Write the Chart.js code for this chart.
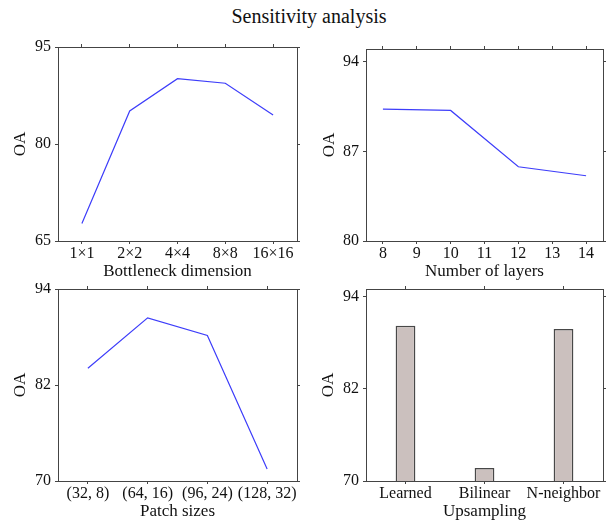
<!DOCTYPE html>
<html>
<head>
<meta charset="utf-8">
<script src="https://cdn.jsdelivr.net/npm/chart.js@4.4.1/dist/chart.umd.min.js"></script>
<style>
  html, body { margin: 0; padding: 0; background: #fff; }
  body { width: 613px; height: 523px; position: relative; overflow: hidden; }
  #title { position: absolute; left: 0; width: 618px; top: 5px; line-height: 20px; text-align: center;
           font: 20px 'Liberation Serif', 'Times New Roman', serif; color: #111; }
  canvas { position: absolute; }
</style>
</head>
<body>
<div id="title">Sensitivity analysis</div>
<canvas id="c1" width="305" height="248" style="left:0;top:35px"></canvas>
<canvas id="c2" width="308" height="248" style="left:305px;top:35px"></canvas>
<canvas id="c3" width="305" height="240" style="left:0;top:283px"></canvas>
<canvas id="c4" width="308" height="240" style="left:305px;top:283px"></canvas>
<script>
// values
const bottleneckDims = ['1×1', '2×2', '4×4', '8×8', '16×16'];
const oaBottleneck = [67.7, 85.1, 90.1, 89.4, 84.5];
const bottleneckTicks = [65, 80, 95];

const layerCounts = [8, 10, 12, 14];
const oaLayers = [90.3, 90.2, 85.8, 85.1];
const layerTicks = [8, 9, 10, 11, 12, 13, 14];
const layersOaTicks = [80, 87, 94];

const patchSizes = ['(32, 8)', '(64, 16)', '(96, 24)', '(128, 32)'];
const oaPatch = [84.1, 90.4, 88.2, 71.5];
const patchOaTicks = [70, 82, 94];

const upsampling = ['Learned', 'Bilinear', 'N-neighbor'];
const oaUpsampling = [90.2, 71.7, 89.8];
const upsamplingOaTicks = [70, 82, 94];

const FRAME = '#444';
const LINE = '#3d3dfa';

Chart.defaults.font.family = "'Liberation Serif', 'Times New Roman', serif";
Chart.defaults.color = '#111';

const axisBase = () => ({
    grid: { display: true, drawOnChartArea: false, drawTicks: true, tickLength: 3, color: FRAME, offset: false },
    border: { display: true, color: FRAME, width: 1 }
});
const useTicks = vals => s => { s.ticks = vals.map(v => ({ value: v })); };
// pin the axis box size and drop the label overflow padding so the plot frames land where they should
const fix = (prop, v) => s => {
    s[prop] = v;
    s.paddingTop = s.paddingBottom = s.paddingLeft = s.paddingRight = 0;
};

function makePanel(id, p) {
    const xCommon = p.xType === 'linear'
        ? { type: 'linear', min: p.xMin, max: p.xMax, afterBuildTicks: useTicks(p.xTicks) }
        : { type: 'category', offset: true };
    const yCommon = { type: 'linear', min: p.yMin, max: p.yMax, afterBuildTicks: useTicks(p.yTicks) };

    return new Chart(document.getElementById(id), {
        type: p.type,
        data: { labels: p.labels, datasets: p.datasets },
        options: {
            responsive: false,
            animation: false,
            layout: { padding: 0 },
            plugins: { legend: { display: false }, tooltip: { enabled: false } },
            scales: {
                x: {
                    ...axisBase(), ...xCommon, position: 'bottom',
                    afterFit: fix('height', p.box.bottom),
                    ticks: { padding: 2, maxRotation: 0, autoSkip: false, font: { size: 16, lineHeight: 1 } },
                    title: { display: true, text: p.xTitle, font: { size: 17, lineHeight: 1 }, padding: { top: 0, bottom: 3 } }
                },
                x2: {
                    ...axisBase(), ...xCommon, position: 'top',
                    afterFit: fix('height', p.box.top),
                    ticks: { display: false }
                },
                y: {
                    ...axisBase(), ...yCommon, position: 'left',
                    afterFit: fix('width', p.box.left),
                    ticks: { padding: 4, font: { size: 16 } },
                    title: { display: true, text: 'OA', font: { size: 17, lineHeight: 1 }, padding: { top: p.oaPad, bottom: 0 } }
                },
                y2: {
                    ...axisBase(), ...yCommon, position: 'right',
                    afterFit: fix('width', p.box.right),
                    ticks: { display: false }
                }
            }
        }
    });
}

const lineSet = data => ({ data, borderColor: LINE, borderWidth: 1.2, pointRadius: 0, tension: 0, fill: false });

makePanel('c1', {
    type: 'line', labels: bottleneckDims, datasets: [lineSet(oaBottleneck)],
    yMin: 65, yMax: 95, yTicks: bottleneckTicks, xTitle: 'Bottleneck dimension',
    box: { left: 58, right: 8, top: 12, bottom: 42 }, oaPad: 12.5
});

makePanel('c2', {
    type: 'line', xType: 'linear', xMin: 7.5, xMax: 14.5, xTicks: layerTicks,
    datasets: [lineSet(layerCounts.map((n, i) => ({ x: n, y: oaLayers[i] })))],
    yMin: 80, yMax: 95, yTicks: layersOaTicks, xTitle: 'Number of layers',
    box: { left: 61, right: 10, top: 14, bottom: 42 }, oaPad: 16.5
});

makePanel('c3', {
    type: 'line', labels: patchSizes, datasets: [lineSet(oaPatch)],
    yMin: 70, yMax: 94, yTicks: patchOaTicks, xTitle: 'Patch sizes',
    box: { left: 58, right: 8, top: 6, bottom: 42 }, oaPad: 12.5
});

makePanel('c4', {
    type: 'bar', labels: upsampling,
    datasets: [{
        data: oaUpsampling, backgroundColor: '#cbc0be', borderColor: '#484848', borderWidth: 1.5,
        barPercentage: 0.25, categoryPercentage: 1
    }],
    yMin: 70, yMax: 95, yTicks: upsamplingOaTicks, xTitle: 'Upsampling',
    box: { left: 61, right: 10, top: 6, bottom: 42 }, oaPad: 15.5
});
</script>
</body>
</html>
